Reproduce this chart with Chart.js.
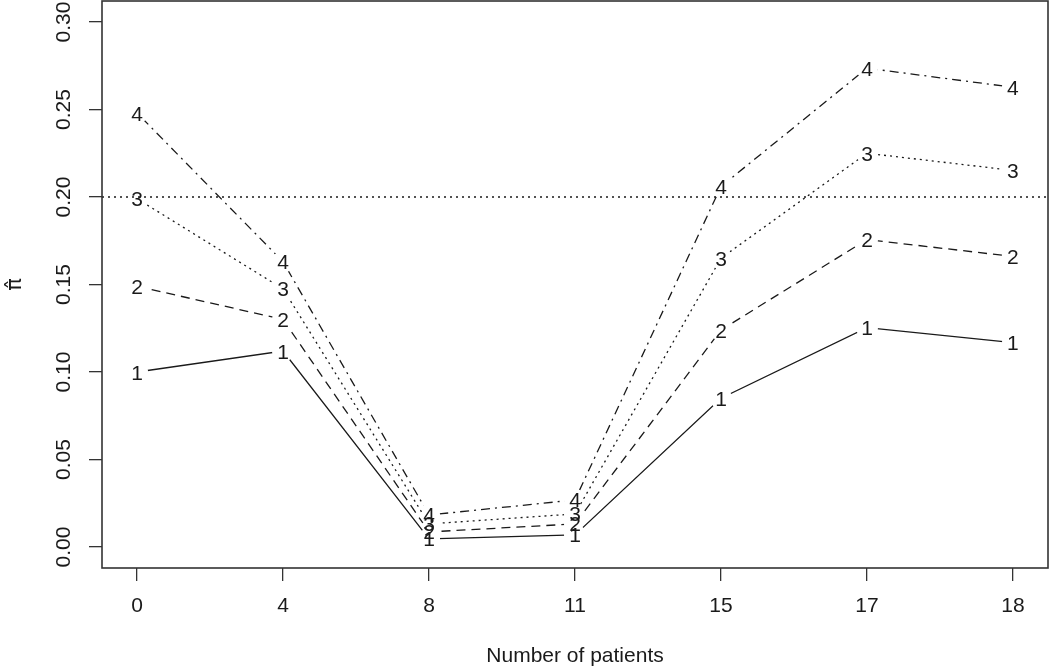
<!DOCTYPE html>
<html>
<head>
<meta charset="utf-8">
<script src="https://cdn.jsdelivr.net/npm/chart.js@4/dist/chart.umd.min.js"></script>
<style>
  body { margin: 0; background: #fff; }
  canvas { display: block; }
</style>
</head>
<body>
<canvas id="chart" width="1050" height="667"></canvas>
<script>
var categories = ['0', '4', '8', '11', '15', '17', '18']
var series1 = [0.100, 0.112, 0.0046, 0.0069, 0.085, 0.1254, 0.1168]
var series2 = [0.149, 0.130, 0.0086, 0.0132, 0.124, 0.1757, 0.166]
var series3 = [0.199, 0.1475, 0.0132, 0.0189, 0.165, 0.225, 0.2152]
var series4 = [0.248, 0.163, 0.0183, 0.0269, 0.206, 0.2736, 0.2627]
var seriesNames = ['1', '2', '3', '4']
var yTicks = [0, 0.05, 0.10, 0.15, 0.20, 0.25, 0.30]
var refLine = 0.20

var ink = '#1a1a1a'
var fontFamily = "'Liberation Sans', Arial, Helvetica, sans-serif"
Chart.defaults.font.family = fontFamily
Chart.defaults.color = ink

function toPoints(values) {
  return values.map(function (v, i) { return {x: i, y: v} })
}

var dashes = [[], [9, 6], [2, 4], [2, 5, 9, 5]]
var allSeries = [series1, series2, series3, series4]

var datasets = allSeries.map(function (s, k) {
  return {
    label: seriesNames[k],
    data: toPoints(s),
    borderColor: ink,
    borderWidth: 1.3,
    borderDash: dashes[k],
    pointRadius: 0,
    pointHoverRadius: 0,
    tension: 0,
    fill: false
  }
})

var gapRadius = 11

// leave a small gap in each line around its own points, like R's type = "b"
var gapPlugin = {
  id: 'gaps',
  beforeDatasetDraw: function (chart, args) {
    var ctx = chart.ctx
    ctx.save()
    ctx.beginPath()
    ctx.rect(0, 0, chart.width, chart.height)
    args.meta.data.forEach(function (pt) {
      ctx.moveTo(pt.x + gapRadius, pt.y)
      ctx.arc(pt.x, pt.y, gapRadius, 0, Math.PI * 2)
    })
    ctx.clip('evenodd')
  },
  afterDatasetDraw: function (chart) {
    chart.ctx.restore()
  },
  afterDatasetsDraw: function (chart) {
    var ctx = chart.ctx
    ctx.save()
    ctx.fillStyle = ink
    ctx.font = '21px ' + fontFamily
    ctx.textAlign = 'center'
    ctx.textBaseline = 'alphabetic'
    chart.data.datasets.forEach(function (ds, k) {
      chart.getDatasetMeta(k).data.forEach(function (pt) {
        ctx.fillText(ds.label, pt.x, pt.y + 7.5)
      })
    })
    ctx.restore()
  }
}

var framePlugin = {
  id: 'frame',
  beforeDatasetsDraw: function (chart) {
    var ctx = chart.ctx
    var a = chart.chartArea
    var y = chart.scales.y.getPixelForValue(refLine)
    ctx.save()
    ctx.strokeStyle = ink
    ctx.lineWidth = 1.3
    ctx.setLineDash([2, 4])
    ctx.beginPath()
    ctx.moveTo(a.left, y)
    ctx.lineTo(a.right, y)
    ctx.stroke()
    ctx.restore()
  },
  afterDraw: function (chart) {
    var ctx = chart.ctx
    var a = chart.chartArea
    ctx.save()
    ctx.strokeStyle = '#333'
    ctx.lineWidth = 1.6
    ctx.strokeRect(a.left, a.top, a.right - a.left, a.bottom - a.top)
    ctx.restore()
  }
}

var ctx = document.getElementById('chart').getContext('2d')

var myChart = new Chart(ctx, {
  type: 'line',
  data: {datasets: datasets},
  plugins: [gapPlugin, framePlugin],
  options: {
    responsive: false,
    animation: false,
    layout: {padding: {top: 1, right: 2, left: 0, bottom: 0}},
    plugins: {
      legend: {display: false},
      tooltip: {enabled: false},
      title: {display: false}
    },
    scales: {
      x: {
        type: 'linear',
        min: -0.24,
        max: categories.length - 1 + 0.24,
        afterBuildTicks: function (scale) {
          scale.ticks = categories.map(function (c, i) { return {value: i} })
        },
        afterFit: function (scale) {
          scale.height = 99
          scale.paddingLeft = 0
          scale.paddingRight = 0
        },
        ticks: {
          color: ink,
          font: {size: 21},
          padding: 13,
          maxRotation: 0,
          autoSkip: false,
          callback: function (v) { return categories[v] }
        },
        grid: {
          display: true,
          drawOnChartArea: false,
          drawTicks: true,
          tickLength: 13,
          color: '#333',
          lineWidth: 1.3
        },
        border: {display: false},
        title: {
          display: true,
          text: 'Number of patients',
          color: ink,
          font: {size: 21, lineHeight: 1},
          padding: {top: 0, bottom: 0}
        }
      },
      y: {
        type: 'linear',
        min: -0.012,
        max: 0.312,
        afterBuildTicks: function (scale) {
          scale.ticks = yTicks.map(function (v) { return {value: v} })
        },
        afterFit: function (scale) {
          scale.width = 102
          scale.paddingTop = 0
          scale.paddingBottom = 0
        },
        ticks: {
          color: ink,
          font: {size: 21},
          padding: 4,
          minRotation: 90,
          maxRotation: 90,
          crossAlign: 'center',
          autoSkip: false,
          callback: function (v) { return v.toFixed(2) }
        },
        grid: {
          display: true,
          drawOnChartArea: false,
          drawTicks: true,
          tickLength: 13,
          color: '#333',
          lineWidth: 1.3
        },
        border: {display: false},
        title: {
          display: true,
          text: '\u03C0\u0302',
          color: ink,
          font: {size: 21, family: "'DejaVu Sans', sans-serif"},
          padding: {top: 3, bottom: 0}
        }
      }
    }
  }
})
</script>
</body>
</html>
